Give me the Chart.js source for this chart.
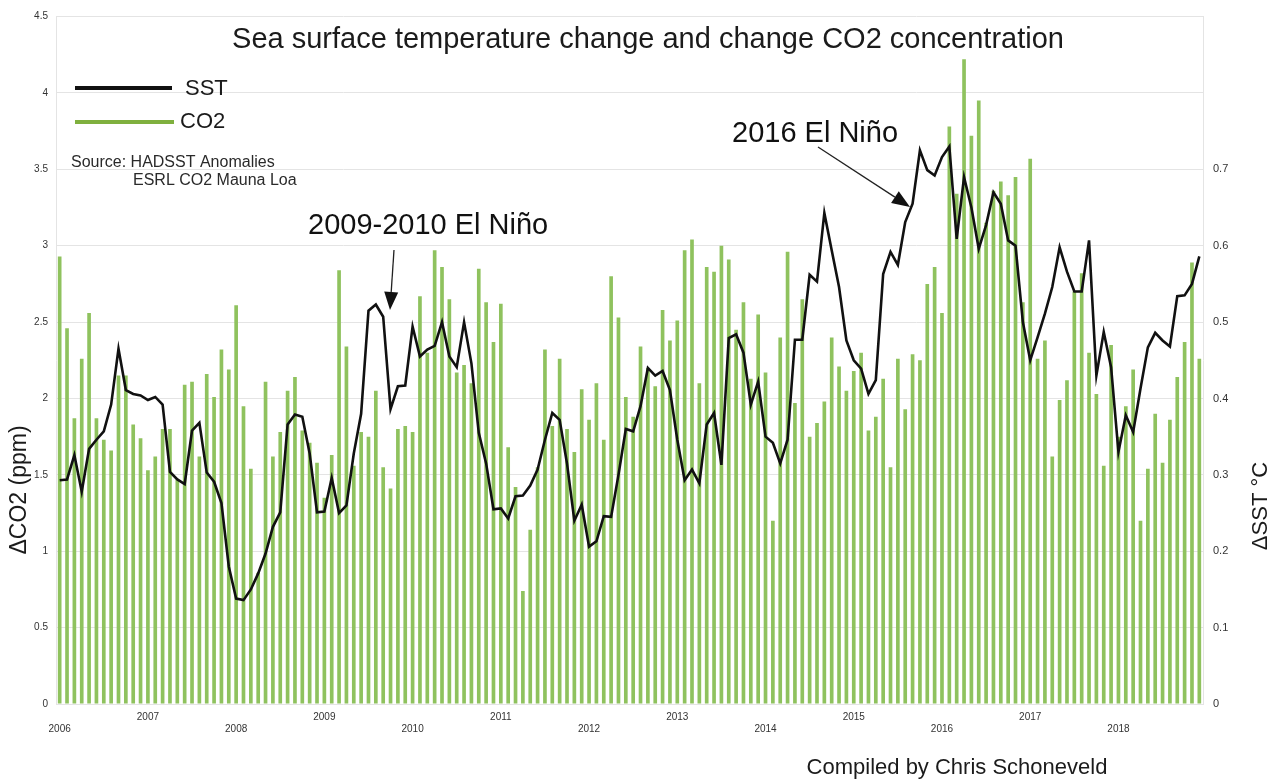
<!DOCTYPE html>
<html>
<head>
<meta charset="utf-8">
<title>Sea surface temperature change and change CO2 concentration</title>
<style>
  html, body { margin: 0; padding: 0; background: #fff; }
</style>
<script src="https://cdn.jsdelivr.net/npm/chart.js@4.4.1/dist/chart.umd.min.js"></script>
</head>
<body>
<canvas id="chart" width="1276" height="781"></canvas>
<script>
// monthly values, Jan 2006 .. Dec 2018
const firstYear = 2006;
const lastYear = 2018;

const co2Change = [
  2.93, 2.46, 1.87, 2.26, 2.56, 1.87, 1.73, 1.66, 2.15, 2.15, 1.83, 1.74,
  1.53, 1.62, 1.80, 1.80, 1.47, 2.09, 2.11, 1.62, 2.16, 2.01, 2.32, 2.19,
  2.61, 1.95, 1.54, 0.86, 2.11, 1.62, 1.78, 2.05, 2.14, 1.79, 1.71, 1.58,
  1.35, 1.63, 2.84, 2.34, 1.56, 1.78, 1.75, 2.05, 1.55, 1.41, 1.80, 1.82,
  1.78, 2.67, 2.30, 2.97, 2.86, 2.65, 2.17, 2.22, 2.10, 2.85, 2.63, 2.37,
  2.62, 1.68, 1.42, 0.74, 1.14, 1.55, 2.32, 1.82, 2.26, 1.80, 1.65, 2.06,
  1.86, 2.10, 1.73, 2.80, 2.53, 2.01, 1.88, 2.34, 2.20, 2.08, 2.58, 2.38,
  2.51, 2.97, 3.04, 2.10, 2.86, 2.83, 3.00, 2.91, 2.45, 2.63, 2.13, 2.55,
  2.17, 1.20, 2.40, 2.96, 1.97, 2.65, 1.75, 1.84, 1.98, 2.40, 2.21, 2.05,
  2.18, 2.30, 1.79, 1.88, 2.13, 1.55, 2.26, 1.93, 2.29, 2.25, 2.75, 2.86,
  2.56, 3.78, 3.34, 4.22, 3.72, 3.95, 3.15, 3.36, 3.42, 3.33, 3.45, 2.63,
  3.57, 2.26, 2.38, 1.62, 1.99, 2.12, 2.70, 2.82, 2.30, 2.03, 1.56, 2.35,
  1.75, 1.95, 2.19, 1.20, 1.54, 1.90, 1.58, 1.86, 2.14, 2.37, 2.89, 2.26
];

const sstChange = [
  0.293, 0.294, 0.326, 0.278, 0.334, 0.346, 0.357, 0.392, 0.465, 0.411, 0.406, 0.404,
  0.398, 0.402, 0.392, 0.304, 0.294, 0.288, 0.358, 0.368, 0.303, 0.291, 0.263, 0.180,
  0.138, 0.136, 0.150, 0.171, 0.197, 0.232, 0.251, 0.366, 0.379, 0.376, 0.328, 0.251,
  0.252, 0.296, 0.250, 0.260, 0.328, 0.380, 0.515, 0.523, 0.507, 0.386, 0.416, 0.417,
  0.494, 0.455, 0.464, 0.469, 0.500, 0.455, 0.441, 0.500, 0.446, 0.355, 0.315, 0.255,
  0.256, 0.243, 0.272, 0.273, 0.286, 0.307, 0.346, 0.381, 0.372, 0.315, 0.240, 0.261,
  0.206, 0.213, 0.246, 0.245, 0.300, 0.360, 0.357, 0.390, 0.440, 0.430, 0.436, 0.411,
  0.346, 0.293, 0.307, 0.289, 0.366, 0.381, 0.313, 0.479, 0.484, 0.460, 0.392, 0.422,
  0.350, 0.342, 0.315, 0.346, 0.477, 0.477, 0.562, 0.553, 0.643, 0.594, 0.546, 0.476,
  0.450, 0.439, 0.406, 0.424, 0.563, 0.592, 0.575, 0.631, 0.655, 0.725, 0.699, 0.692,
  0.716, 0.730, 0.609, 0.690, 0.650, 0.596, 0.627, 0.670, 0.655, 0.607, 0.600, 0.500,
  0.450, 0.480, 0.511, 0.546, 0.598, 0.566, 0.540, 0.540, 0.607, 0.430, 0.487, 0.441,
  0.330, 0.378, 0.356, 0.413, 0.467, 0.486, 0.476, 0.468, 0.534, 0.535, 0.550, 0.586
];

const monthLabels = [];
for (let y = firstYear; y <= lastYear; y++) {
  for (let m = 1; m <= 12; m++) {
    monthLabels.push(y + '-' + (m < 10 ? '0' + m : m));
  }
}

const co2Ticks = { min: 0, max: 4.5, step: 0.5 };
const sstTicks = { min: 0, max: 0.9, step: 0.1, lastShown: 0.7 };

const FONT = '"Liberation Sans", Arial, Helvetica, sans-serif';

function arrow(ctx, x1, y1, x2, y2, len, wid) {
  const a = Math.atan2(y2 - y1, x2 - x1);
  const bx = x2 - len * Math.cos(a), by = y2 - len * Math.sin(a);
  ctx.beginPath();
  ctx.moveTo(x1, y1);
  ctx.lineTo(bx, by);
  ctx.stroke();
  ctx.beginPath();
  ctx.moveTo(x2, y2);
  ctx.lineTo(bx + wid / 2 * Math.sin(a), by - wid / 2 * Math.cos(a));
  ctx.lineTo(bx - wid / 2 * Math.sin(a), by + wid / 2 * Math.cos(a));
  ctx.closePath();
  ctx.fill();
}

// title, legend, notes and arrows
const decorations = {
  id: 'decorations',
  afterDraw(chart) {
    const ctx = chart.ctx;
    ctx.save();
    ctx.fillStyle = '#1b1b1b';
    ctx.textBaseline = 'middle';

    ctx.textAlign = 'center';
    ctx.font = '29px ' + FONT;
    ctx.fillText('Sea surface temperature change and change CO2 concentration', 648, 40);

    // legend
    ctx.lineWidth = 4;
    ctx.strokeStyle = '#111';
    ctx.beginPath(); ctx.moveTo(75, 88); ctx.lineTo(172, 88); ctx.stroke();
    ctx.strokeStyle = '#7fb03e';
    ctx.beginPath(); ctx.moveTo(75, 122); ctx.lineTo(174, 122); ctx.stroke();
    ctx.textAlign = 'left';
    ctx.font = '22px ' + FONT;
    ctx.fillText('SST', 185, 89);
    ctx.fillText('CO2', 180, 122);

    ctx.font = '16px ' + FONT;
    ctx.fillStyle = '#2a2a2a';
    ctx.fillText('Source: HADSST Anomalies', 71, 163);
    ctx.fillText('ESRL CO2 Mauna Loa', 133, 181);

    ctx.fillStyle = '#111';
    ctx.font = '29px ' + FONT;
    ctx.fillText('2009-2010 El Niño', 308, 226);
    ctx.fillText('2016 El Niño', 732, 134);

    ctx.lineWidth = 1.3;
    ctx.strokeStyle = '#222';
    ctx.fillStyle = '#111';
    arrow(ctx, 394, 250, 390, 310, 18, 14);
    arrow(ctx, 818, 147, 910, 207, 18, 14);

    // axis titles
    ctx.fillStyle = '#1b1b1b';
    ctx.font = '23px ' + FONT;
    ctx.textAlign = 'center';
    ctx.save();
    ctx.translate(20, 490);
    ctx.rotate(-Math.PI / 2);
    ctx.fillText('\u0394CO2 (ppm)', 0, 0);
    ctx.restore();
    ctx.save();
    ctx.font = '22px ' + FONT;
    ctx.translate(1261, 506);
    ctx.rotate(-Math.PI / 2);
    ctx.fillText('\u0394SST \u00b0C', 0, 0);
    ctx.restore();

    ctx.font = '22px ' + FONT;
    ctx.fillText('Compiled by Chris Schoneveld', 957, 768);
    ctx.restore();
  }
};

const ctx = document.getElementById('chart');
const chart = new Chart(ctx, {
  type: 'bar',
  data: {
    labels: monthLabels,
    datasets: [
      {
        type: 'line',
        label: 'SST',
        data: sstChange,
        yAxisID: 'y1',
        borderColor: '#111',
        borderWidth: 2.6,
        pointRadius: 0,
        tension: 0,
        order: 0
      },
      {
        label: 'CO2',
        data: co2Change,
        yAxisID: 'y',
        backgroundColor: '#8fc25e',
        borderWidth: 0,
        barPercentage: 0.5,
        categoryPercentage: 1.0,
        order: 1
      }
    ]
  },
  options: {
    responsive: false,
    devicePixelRatio: 1,
    animation: false,
    layout: { padding: { top: 16, left: 0, right: 0, bottom: 0 } },
    plugins: {
      legend: { display: false },
      title: { display: false },
      tooltip: { enabled: false }
    },
    scales: {
      x: {
        grid: { display: false, drawTicks: false },
        border: { display: false },
        ticks: {
          autoSkip: false,
          maxRotation: 0,
          minRotation: 0,
          padding: 7,
          color: '#333',
          font: { family: FONT, size: 10, lineHeight: 1.2 },
          callback: function (value, index) {
            if (index % 12 !== 0) return '';
            const yr = firstYear + index / 12;
            return yr % 2 === 0 ? ['', String(yr)] : [String(yr)];
          }
        },
        afterFit: function (scale) { scale.height = 77; }
      },
      y: {
        position: 'left',
        min: co2Ticks.min,
        max: co2Ticks.max,
        grid: { color: '#e4e4e4', lineWidth: 1, drawTicks: false },
        border: { display: true, color: '#e4e4e4' },
        ticks: {
          stepSize: co2Ticks.step,
          padding: 8,
          color: '#333',
          font: { family: FONT, size: 10 },
          callback: v => String(Math.round(v * 10) / 10)
        },
        afterFit: function (scale) { scale.width = 56; }
      },
      y1: {
        position: 'right',
        min: sstTicks.min,
        max: sstTicks.max,
        grid: { drawOnChartArea: false, drawTicks: false },
        border: { display: true, color: '#e4e4e4' },
        ticks: {
          stepSize: sstTicks.step,
          padding: 10,
          color: '#333',
          font: { family: FONT, size: 11 },
          callback: v => (v > sstTicks.lastShown + 1e-9 ? '' : String(Math.round(v * 10) / 10))
        },
        afterFit: function (scale) { scale.width = 73; }
      }
    }
  },
  plugins: [decorations]
});
</script>
</body>
</html>
